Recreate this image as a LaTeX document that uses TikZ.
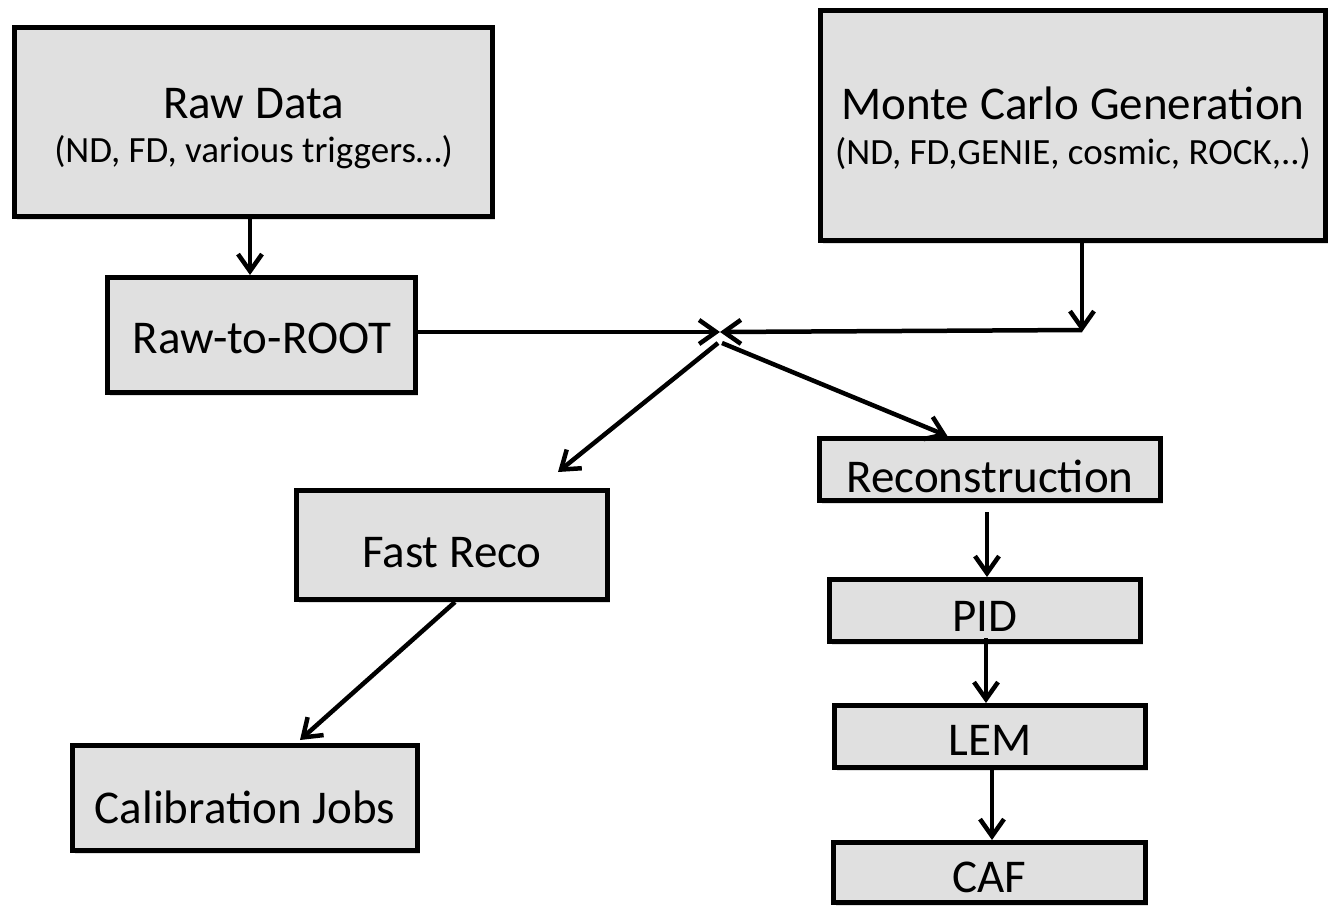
\documentclass[tikz,border=0pt]{standalone}
\usepackage{fontspec}
\setmainfont{Carlito}
\usetikzlibrary{arrows.meta,shadows,calc}
\definecolor{boxgray}{HTML}{E0E0E0}
\begin{document}
\begin{tikzpicture}[x=1pt,y=-1pt,
  box/.style={draw=black, line width=5pt, fill=boxgray, inner sep=0pt, rectangle,
    drop shadow={shadow xshift=2pt,shadow yshift=-3pt,opacity=0.25}},
  big/.style={font=\fontsize{47}{50}\selectfont, inner sep=0pt, anchor=base},
  small/.style={font=\fontsize{37}{42}\selectfont, inner sep=0pt, anchor=base},
  arr/.style={line width=4.5pt, -{Straight Barb[length=17pt,width=24pt]}}]
\useasboundingbox (0,0) rectangle (1340,907);
% boxes
\node[box, minimum width=478pt, minimum height=189pt] (raw) at (253.5,122) {};
\node[box, minimum width=308pt, minimum height=115pt] (r2r) at (261.5,335) {};
\node[box, minimum width=505pt, minimum height=230pt] (mc) at (1073,125.5) {};
\node[box, minimum width=341pt, minimum height=62pt] (reco) at (990,469.5) {};
\node[box, minimum width=311pt, minimum height=109pt] (fast) at (452,545) {};
\node[box, minimum width=345pt, minimum height=105pt] (calib) at (245,798) {};
\node[box, minimum width=311pt, minimum height=62pt] (pid) at (985,610.5) {};
\node[box, minimum width=311pt, minimum height=62pt] (lem) at (990,736.5) {};
\node[box, minimum width=312pt, minimum height=60pt] (caf) at (989.5,872.5) {};
% labels
\node[big] (rawT) at (253.5,118) {Raw Data};
\node[small] (rawS) at (253.5,162) {(ND, FD, various triggers…)};
\node[big] (mcT) at (1073,119) {Monte Carlo Generation};
\node[small] (mcS) at (1073,164) {(ND, FD,GENIE, cosmic, ROCK,..)};
\node[big] (r2rT) at (262,353) {Raw-to-ROOT};
\node[big] (recoT) at (990,492) {Reconstruction};
\node[big] (fastT) at (452,567) {Fast Reco};
\node[big] (calibT) at (245,823) {Calibration Jobs};
\node[big] (pidT) at (985,631) {PID};
\node[big] (lemT) at (990,755) {LEM};
\node[big] (cafT) at (989.5,892) {CAF};
% connector points
\coordinate (hub) at (720,332);
\coordinate (mcturn) at (1082,330);
\coordinate (fastin) at (558,472);
% connectors
\draw[arr] ($(raw.south)+(-3.5,0)$) -- ($(r2r.north)+(-11.5,0)$);
\draw[arr] (r2r.east |- hub) -- (hub);
\draw[arr] (mc.south -| mcturn) -- ($(mcturn)+(0,2)$);
\draw[arr] (mcturn) -- (hub);
\draw[arr] ($(hub)+(-2,11)$) -- (fastin);
\draw[arr] ($(hub)+(2,11)$) -- ($(reco.north west)!0.377!(reco.north east)$);
\draw[arr] ($(fast.south)+(3,0)$) -- ($(calib.north)+(55,-3)$);
\draw[arr] ($(reco.south -| pid.north)+(2,9)$) -- ($(pid.north)+(2,0)$);
\draw[arr] ($(pid.south)+(1,-6)$) -- ($(lem.north)+(-4,0)$);
\draw[arr] ($(lem.south)+(2,0)$) -- ($(caf.north)+(2.5,0)$);
\end{tikzpicture}
\end{document}
